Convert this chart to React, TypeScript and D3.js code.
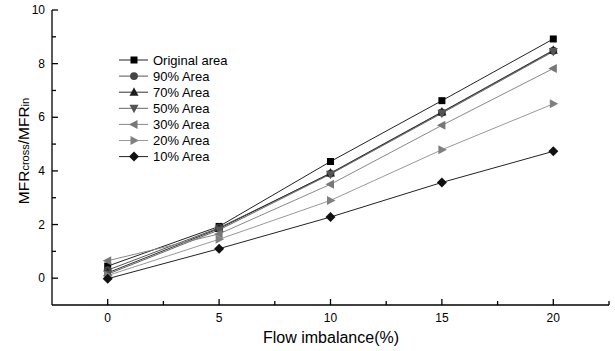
import { useEffect, useRef } from "react";
import * as d3 from "d3";

const xValues = [0, 5, 10, 15, 20];
const seriesNames = ["Original area", "90% Area", "70% Area", "50% Area", "30% Area", "20% Area", "10% Area"];
const original = [0.45, 1.93, 4.35, 6.62, 8.92];
const area90 = [0.3, 1.88, 3.9, 6.18, 8.48];
const area70 = [0.2, 1.85, 3.92, 6.2, 8.5];
const area50 = [0.15, 1.8, 3.88, 6.15, 8.45];
const area30 = [0.65, 1.65, 3.5, 5.7, 7.82];
const area20 = [0.1, 1.45, 2.9, 4.79, 6.5];
const area10 = [-0.02, 1.1, 2.28, 3.57, 4.73];
const xTicks = [0, 5, 10, 15, 20];
const yTicks = [0, 2, 4, 6, 8, 10];

const allSeries = [original, area90, area70, area50, area30, area20, area10];
const colors = ["#000", "#444", "#1e1e1e", "#555", "#777", "#808080", "#111"];
const lineColors = ["#222", "#555", "#333", "#666", "#888", "#999", "#222"];
const shapes = ["square", "circle", "up", "down", "left", "right", "diamond"];

function markerPath(shape: string, s: number) {
  const h = s / 2;
  switch (shape) {
    case "square":
      return `M${-h + 0.5},${-h + 0.5}h${s - 1}v${s - 1}h${-(s - 1)}Z`;
    case "circle":
      return d3.symbol(d3.symbolCircle, s * s * 0.75)() as string;
    case "up":
      return `M0,${-h - 1}L${h + 0.5},${h - 0.5}L${-h - 0.5},${h - 0.5}Z`;
    case "down":
      return `M0,${h + 1}L${h + 0.5},${-h + 0.5}L${-h - 0.5},${-h + 0.5}Z`;
    case "left":
      return `M${-h - 1},0L${h - 0.5},${-h - 0.5}L${h - 0.5},${h + 0.5}Z`;
    case "right":
      return `M${h + 1},0L${-h + 0.5},${-h - 0.5}L${-h + 0.5},${h + 0.5}Z`;
    default:
      return `M0,${-h - 1}L${h + 1},0L0,${h + 1}L${-h - 1},0Z`;
  }
}

function Chart() {
  const svgRef = useRef<SVGSVGElement>(null);

  useEffect(() => {
    const width = 615;
    const height = 351;
    const left = 52;
    const right = 609;
    const top = 10;
    const bottom = 305;

    const svg = d3.select(svgRef.current);
    svg.selectAll("*").remove();
    svg.attr("width", width).attr("height", height);

    const x = d3.scaleLinear().domain([-2.5, 22.5]).range([left, right]);
    const y = d3.scaleLinear().domain([-1, 10]).range([bottom, top]);

    const font = "Arial, 'Liberation Sans', sans-serif";

    // axes
    const ax = svg.append("g").attr("stroke", "#000").attr("stroke-width", 1.3);
    ax.append("line").attr("x1", left).attr("x2", right).attr("y1", bottom).attr("y2", bottom);
    ax.append("line").attr("x1", left).attr("x2", left).attr("y1", top).attr("y2", bottom);

    // x ticks (inward)
    d3.range(0, 23, 2.5).forEach((v) => {
      const major = v % 5 === 0;
      ax.append("line")
        .attr("x1", x(v)).attr("x2", x(v))
        .attr("y1", bottom).attr("y2", bottom - (major ? 6 : 4));
    });
    // y ticks (inward)
    d3.range(0, 11, 1).forEach((v) => {
      const major = v % 2 === 0;
      ax.append("line")
        .attr("y1", y(v)).attr("y2", y(v))
        .attr("x1", left).attr("x2", left + (major ? 6 : 4));
    });

    svg.append("g").selectAll("text").data(xTicks).enter().append("text")
      .attr("x", (d) => x(d)).attr("y", bottom + 17)
      .attr("text-anchor", "middle")
      .style("font-family", font).style("font-size", "12px")
      .text((d) => d);

    svg.append("g").selectAll("text").data(yTicks).enter().append("text")
      .attr("x", left - 7).attr("y", (d) => y(d) + 4)
      .attr("text-anchor", "end")
      .style("font-family", font).style("font-size", "12px")
      .text((d) => d);

    // axis titles
    svg.append("text")
      .attr("x", 331).attr("y", 343)
      .attr("text-anchor", "middle")
      .style("font-family", font).style("font-size", "16px")
      .text("Flow imbalance(%)");

    const yl = svg.append("text")
      .attr("transform", `translate(29, 151) rotate(-90)`)
      .attr("text-anchor", "middle")
      .style("font-family", font).style("font-size", "15.5px");
    yl.append("tspan").text("MFR");
    yl.append("tspan").style("font-size", "11px").text("cross");
    yl.append("tspan").text("/MFR");
    yl.append("tspan").style("font-size", "11px").text("in");

    const line = d3.line<number>().x((_, i) => x(xValues[i])).y((d) => y(d));

    allSeries.forEach((vals, i) => {
      svg.append("path")
        .attr("d", line(vals))
        .attr("fill", "none")
        .attr("stroke", lineColors[i])
        .attr("stroke-width", 1);
    });
    allSeries.forEach((vals, i) => {
      svg.append("g").selectAll("path").data(vals).enter().append("path")
        .attr("transform", (d, j) => `translate(${x(xValues[j])},${y(d)})`)
        .attr("d", markerPath(shapes[i], 8))
        .attr("fill", colors[i]);
    });

    // legend
    const lg = svg.append("g");
    seriesNames.forEach((name, i) => {
      const ly = 60 + i * 16.1;
      lg.append("line")
        .attr("x1", 119).attr("x2", 148).attr("y1", ly).attr("y2", ly)
        .attr("stroke", lineColors[i]).attr("stroke-width", 1);
      lg.append("path")
        .attr("transform", `translate(134,${ly})`)
        .attr("d", markerPath(shapes[i], 8))
        .attr("fill", colors[i]);
      lg.append("text")
        .attr("x", 153).attr("y", ly + 4.5)
        .style("font-family", font).style("font-size", "13px")
        .text(name);
    });
  }, []);

  return <svg ref={svgRef}></svg>;
}

export default function App() {
  return (
    <div style={{ position: "fixed", left: 0, top: 0, background: "#fff" }}>
      <Chart />
    </div>
  );
}
